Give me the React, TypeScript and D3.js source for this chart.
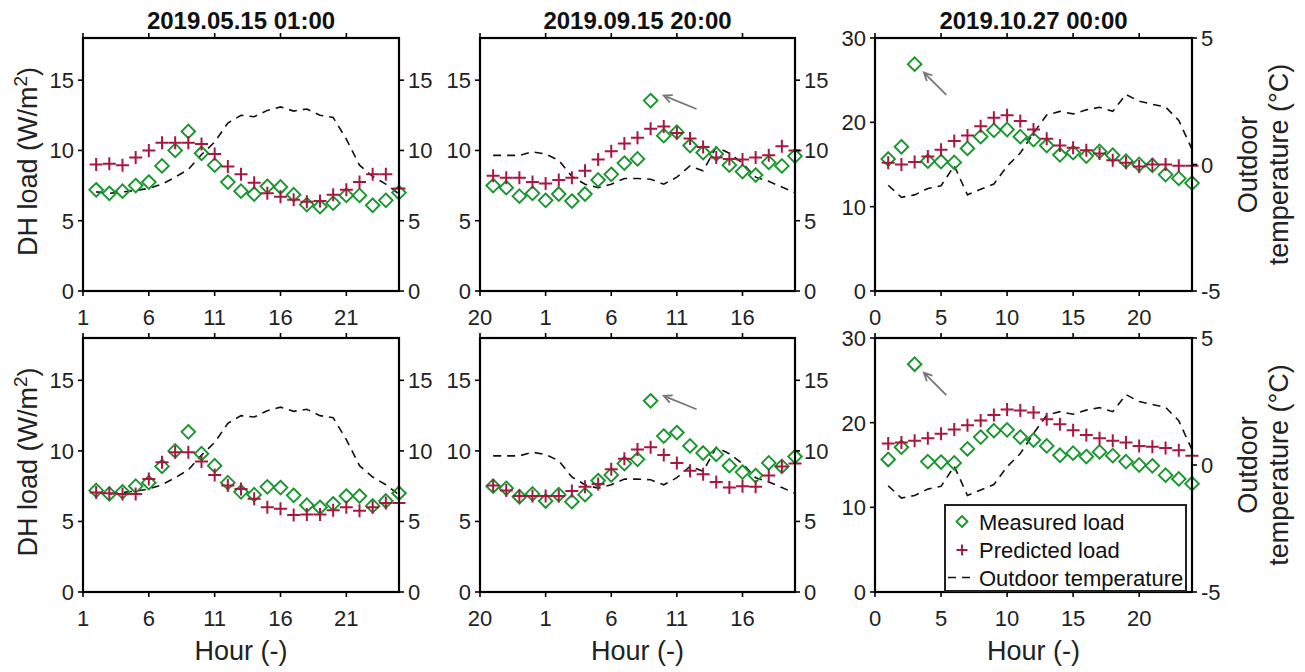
import React from "react";
import * as d3 from "d3";

// ---------------- data ----------------
const titles = ["2019.05.15 01:00", "2019.09.15 20:00", "2019.10.27 00:00"];

// x positions of the hourly points
const hoursMay = [2, 3, 4, 5, 6, 7, 8, 9, 10, 11, 12, 13, 14, 15, 16, 17, 18, 19, 20, 21, 22, 23, 24, 25];
const hoursSep = [1, 2, 3, 4, 5, 6, 7, 8, 9, 10, 11, 12, 13, 14, 15, 16, 17, 18, 19, 20, 21, 22, 23, 24];
const hoursOct = [1, 2, 3, 4, 5, 6, 7, 8, 9, 10, 11, 12, 13, 14, 15, 16, 17, 18, 19, 20, 21, 22, 23, 24];

// x tick positions and labels
const xTicksMay = [1, 6, 11, 16, 21];
const xTickLabelsMay = ["1", "6", "11", "16", "21"];
const xTicksSep = [0, 5, 10, 15, 20];
const xTickLabelsSep = ["20", "1", "6", "11", "16"];
const xTicksOct = [0, 5, 10, 15, 20];
const xTickLabelsOct = ["0", "5", "10", "15", "20"];

// y ticks
const loadTicksSmall = [0, 5, 10, 15];
const loadTicksLarge = [0, 10, 20, 30];
const tempTicksSmall = [0, 5, 10, 15];
const tempTicksOct = [-5, 0, 5];

// measured DH load (W/m2)
const measuredMay = [7.2, 6.95, 7.1, 7.5, 7.75, 8.9, 10.0, 11.35, 9.8, 8.95, 7.75, 7.1, 6.9, 7.45, 7.4, 6.85, 6.15, 6.0, 6.25, 6.8, 6.8, 6.1, 6.45, 7.0];
const measuredSep = [7.5, 7.35, 6.75, 6.95, 6.45, 6.9, 6.4, 6.9, 7.9, 8.3, 9.1, 9.4, 13.55, 11.05, 11.3, 10.35, 9.85, 9.75, 8.95, 8.5, 8.25, 9.15, 8.9, 9.6];
const measuredOct = [15.65, 17.1, 26.9, 15.4, 15.35, 15.25, 16.9, 18.3, 19.05, 19.15, 18.3, 17.95, 17.25, 16.15, 16.4, 16.0, 16.55, 16.1, 15.4, 15.0, 14.9, 13.8, 13.35, 12.8];

// predicted load, top row model
const predTopMay = [9.0, 9.05, 8.95, 9.5, 10.0, 10.55, 10.55, 10.55, 10.45, 9.75, 8.85, 8.3, 7.7, 6.95, 6.7, 6.5, 6.35, 6.4, 6.85, 7.2, 7.75, 8.3, 8.3, 7.3];
const predTopSep = [8.2, 8.05, 8.05, 7.75, 7.65, 7.9, 8.05, 8.55, 9.35, 9.95, 10.5, 10.9, 11.55, 11.7, 11.25, 10.85, 10.25, 9.5, 9.4, 9.35, 9.5, 9.65, 10.3, 10.0];
const predTopOct = [15.2, 15.0, 15.3, 15.95, 16.75, 17.8, 18.45, 19.55, 20.55, 20.85, 20.15, 19.15, 18.05, 17.25, 17.0, 16.7, 16.3, 15.5, 15.2, 14.75, 15.0, 15.0, 14.85, 14.85];

// predicted load, bottom row model
const predBotMay = [7.05, 7.0, 6.95, 6.95, 8.0, 9.2, 9.9, 9.9, 9.25, 8.3, 7.55, 7.3, 6.6, 6.0, 5.9, 5.45, 5.5, 5.5, 5.8, 6.0, 5.75, 6.0, 6.3, 6.3];
const predBotSep = [7.55, 7.2, 6.8, 6.8, 6.8, 6.8, 7.15, 7.45, 7.65, 8.7, 9.45, 10.1, 10.25, 9.7, 9.15, 8.6, 8.35, 7.8, 7.4, 7.5, 7.45, 8.25, 8.9, 9.1];
const predBotOct = [17.55, 17.65, 17.85, 18.15, 18.7, 19.2, 19.7, 20.25, 20.9, 21.55, 21.45, 21.2, 20.4, 19.8, 19.1, 18.55, 18.15, 17.85, 17.65, 17.25, 17.15, 17.0, 16.75, 16.1];

// outdoor temperature (°C)
const tempMay = [7.05, 6.95, 7.05, 7.15, 7.3, 7.6, 8.1, 8.65, 9.7, 10.6, 11.95, 12.5, 12.4, 12.85, 13.1, 12.8, 12.95, 12.5, 12.35, 10.8, 8.95, 8.15, 7.6, 6.9];
const tempSep = [9.65, 9.65, 9.65, 9.9, 9.75, 9.3, 8.15, 7.6, 7.35, 7.6, 8.0, 8.0, 7.95, 7.6, 8.1, 8.9, 8.55, 10.25, 9.8, 9.1, 8.1, 7.8, 7.4, 7.0];
const tempOct = [-0.82, -1.3, -1.2, -0.95, -0.84, -0.05, -1.2, -0.98, -0.77, -0.07, 0.45, 1.24, 1.96, 2.1, 2.0, 2.16, 2.26, 2.1, 2.77, 2.5, 2.38, 2.27, 1.74, 0.6];

const legendLabels = ["Measured load", "Predicted load", "Outdoor temperature"];

// ---------------- styling / layout ----------------
const W = 1305;
const H = 672;
const FONT = "'Liberation Sans', Arial, Helvetica, sans-serif";
const GREEN = "#17962e";
const RED = "#a8173f";
const GRAY = "#777777";

const cols = [
  { x0: 83, x1: 399 },
  { x0: 480, x1: 795 },
  { x0: 875, x1: 1192 },
];
const rows = [
  { y0: 38, y1: 291 },
  { y0: 338, y1: 592 },
];

type PanelCfg = {
  col: number;
  xDomain: [number, number];
  xTicks: number[];
  xTickLabels: string[];
  yLeft: [number, number];
  yLeftTicks: number[];
  yRight: [number, number];
  yRightTicks: number[];
  hours: number[];
  measured: number[];
  predTop: number[];
  predBot: number[];
  temp: number[];
  arrow?: { from: [number, number]; to: [number, number] };
};

const panels: PanelCfg[] = [
  {
    col: 0, xDomain: [1, 25], xTicks: xTicksMay, xTickLabels: xTickLabelsMay,
    yLeft: [0, 18], yLeftTicks: loadTicksSmall, yRight: [0, 18], yRightTicks: tempTicksSmall,
    hours: hoursMay, measured: measuredMay, predTop: predTopMay, predBot: predBotMay, temp: tempMay,
  },
  {
    col: 1, xDomain: [0, 24], xTicks: xTicksSep, xTickLabels: xTickLabelsSep,
    yLeft: [0, 18], yLeftTicks: loadTicksSmall, yRight: [0, 18], yRightTicks: tempTicksSmall,
    hours: hoursSep, measured: measuredSep, predTop: predTopSep, predBot: predBotSep, temp: tempSep,
    arrow: { from: [16.5, 12.95], to: [14.0, 13.9] },
  },
  {
    col: 2, xDomain: [0, 24], xTicks: xTicksOct, xTickLabels: xTickLabelsOct,
    yLeft: [0, 30], yLeftTicks: loadTicksLarge, yRight: [-5, 5], yRightTicks: tempTicksOct,
    hours: hoursOct, measured: measuredOct, predTop: predTopOct, predBot: predBotOct, temp: tempOct,
    arrow: { from: [5.4, 23.25], to: [3.7, 25.9] },
  },
];

const diamondPath = (cx: number, cy: number, r: number) =>
  `M${cx},${cy - r}L${cx + r},${cy}L${cx},${cy + r}L${cx - r},${cy}Z`;
const crossPath = (cx: number, cy: number, r: number) =>
  `M${cx - r},${cy}H${cx + r}M${cx},${cy - r}V${cy + r}`;

function Arrow({ x1, y1, x2, y2 }: { x1: number; y1: number; x2: number; y2: number }) {
  const ang = Math.atan2(y2 - y1, x2 - x1);
  const L = 9;
  const a1 = ang + Math.PI - 0.45;
  const a2 = ang + Math.PI + 0.45;
  const p = `M${x1},${y1}L${x2},${y2}M${x2 + L * Math.cos(a1)},${y2 + L * Math.sin(a1)}L${x2},${y2}L${x2 + L * Math.cos(a2)},${y2 + L * Math.sin(a2)}`;
  return <path d={p} fill="none" stroke={GRAY} strokeWidth={1.8} />;
}

function Panel({ cfg, row }: { cfg: PanelCfg; row: number }) {
  const { x0, x1 } = cols[cfg.col];
  const { y0, y1 } = rows[row];
  const xs = d3.scaleLinear().domain(cfg.xDomain).range([x0, x1]);
  const yl = d3.scaleLinear().domain(cfg.yLeft).range([y1, y0]);
  const yr = d3.scaleLinear().domain(cfg.yRight).range([y1, y0]);
  const pred = row === 0 ? cfg.predTop : cfg.predBot;
  const tempLine = d3
    .line<number>()
    .x((_, i) => xs(cfg.hours[i]))
    .y((d) => yr(d))(cfg.temp) as string;
  const tick = 5;
  return (
    <g>
      {/* temperature */}
      <path d={tempLine} fill="none" stroke="#111" strokeWidth={1.6} strokeDasharray="8,6" />
      {/* measured */}
      {cfg.measured.map((v, i) => (
        <path key={"m" + i} d={diamondPath(xs(cfg.hours[i]), yl(v), 6.8)} fill="none" stroke={GREEN} strokeWidth={1.9} />
      ))}
      {/* predicted */}
      {pred.map((v, i) => (
        <path key={"p" + i} d={crossPath(xs(cfg.hours[i]), yl(v), 6.5)} fill="none" stroke={RED} strokeWidth={2} />
      ))}
      {cfg.arrow && (
        <Arrow
          x1={xs(cfg.arrow.from[0])}
          y1={yl(cfg.arrow.from[1])}
          x2={xs(cfg.arrow.to[0])}
          y2={yl(cfg.arrow.to[1])}
        />
      )}
      {/* box */}
      <rect x={x0} y={y0} width={x1 - x0} height={y1 - y0} fill="none" stroke="#000" strokeWidth={2.2} />
      {/* x ticks */}
      {cfg.xTicks.map((t, i) => (
        <g key={"xt" + i}>
          <line x1={xs(t)} x2={xs(t)} y1={y1} y2={y1 + tick} stroke="#000" strokeWidth={1.6} />
          <line x1={xs(t)} x2={xs(t)} y1={y0} y2={y0 - tick} stroke="#000" strokeWidth={1.6} />
          <text x={xs(t)} y={y1 + 34} textAnchor="middle" fontSize={22} fontFamily={FONT} fill="#222">
            {cfg.xTickLabels[i]}
          </text>
        </g>
      ))}
      {/* left ticks */}
      {cfg.yLeftTicks.map((t) => (
        <g key={"yl" + t}>
          <line x1={x0 - tick} x2={x0} y1={yl(t)} y2={yl(t)} stroke="#000" strokeWidth={1.6} />
          <text x={x0 - 9} y={yl(t) + 8} textAnchor="end" fontSize={22} fontFamily={FONT} fill="#222">
            {t}
          </text>
        </g>
      ))}
      {/* right ticks */}
      {cfg.yRightTicks.map((t) => (
        <g key={"yr" + t}>
          <line x1={x1} x2={x1 + tick} y1={yr(t)} y2={yr(t)} stroke="#000" strokeWidth={1.6} />
          <text x={x1 + 9} y={yr(t) + 8} textAnchor="start" fontSize={22} fontFamily={FONT} fill="#222">
            {t}
          </text>
        </g>
      ))}
    </g>
  );
}

function Legend() {
  const bx = 945, by = 505, bw = 241, bh = 86;
  const rowsY = [521.5, 550, 577.5];
  const mx = 962;
  const tx = 979;
  return (
    <g>
      <rect x={bx} y={by} width={bw} height={bh} fill="#fff" stroke="#222" strokeWidth={2} />
      <path d={diamondPath(mx, rowsY[0], 5.5)} fill="none" stroke={GREEN} strokeWidth={1.9} />
      <path d={crossPath(mx, rowsY[1], 5.5)} fill="none" stroke={RED} strokeWidth={1.9} />
      <line x1={948} x2={974} y1={rowsY[2]} y2={rowsY[2]} stroke="#111" strokeWidth={1.6} strokeDasharray="8,6" />
      {legendLabels.map((l, i) => (
        <text key={l} x={tx} y={rowsY[i] + 8} fontSize={22} fontFamily={FONT} fill="#111">
          {l}
        </text>
      ))}
    </g>
  );
}

export default function App() {
  return (
    <svg
      width={W}
      height={H}
      viewBox={`0 0 ${W} ${H}`}
      style={{ position: "absolute", left: 0, top: 0, background: "#fff" }}
    >
      <rect x={0} y={0} width={W} height={H} fill="#fff" />
      {titles.map((t, i) => (
        <text
          key={t}
          x={(cols[i].x0 + cols[i].x1) / 2}
          y={29}
          textAnchor="middle"
          fontSize={24}
          fontWeight="bold"
          fontFamily={FONT}
          fill="#111"
        >
          {t}
        </text>
      ))}
      {rows.map((_, r) => panels.map((p, i) => <Panel key={r + "-" + i} cfg={p} row={r} />))}
      {rows.map((r, i) => {
        const cy = (r.y0 + r.y1) / 2 - 3;
        return (
          <g key={"lab" + i}>
            <text
              transform={`translate(37,${cy}) rotate(-90)`}
              textAnchor="middle"
              fontSize={27}
              fontFamily={FONT}
              fill="#222"
            >
              DH load (W/m
              <tspan dy={-10} fontSize={19}>2</tspan>
              <tspan dy={10}>)</tspan>
            </text>
            <text
              transform={`translate(1257,${cy + 3}) rotate(-90)`}
              textAnchor="middle"
              fontSize={27}
              fontFamily={FONT}
              fill="#222"
            >
              Outdoor
            </text>
            <text
              transform={`translate(1288,${cy + 3}) rotate(-90)`}
              textAnchor="middle"
              fontSize={27}
              fontFamily={FONT}
              fill="#222"
            >
              temperature (°C)
            </text>
          </g>
        );
      })}
      {cols.map((c, i) => (
        <text
          key={"hour" + i}
          x={(c.x0 + c.x1) / 2}
          y={660}
          textAnchor="middle"
          fontSize={27}
          fontFamily={FONT}
          fill="#222"
        >
          Hour (-)
        </text>
      ))}
      <Legend />
    </svg>
  );
}
